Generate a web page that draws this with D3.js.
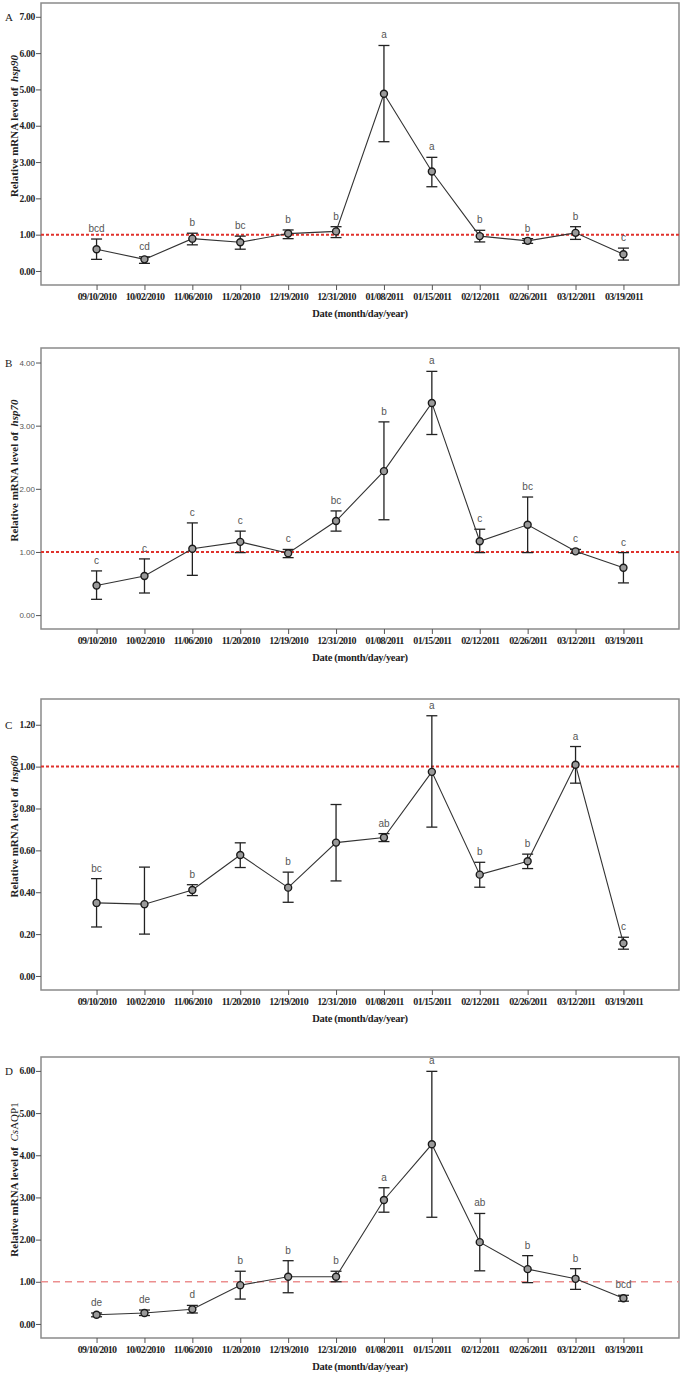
<!DOCTYPE html>
<html>
<head>
<meta charset="utf-8">
<script src="https://cdn.jsdelivr.net/npm/d3@7"></script>
<style>
    body { margin: 0; background: #fff; }
    svg { display: block; }
</style>
</head>
<body>
<svg id="chart" width="685" height="1376"></svg>
<script>
// sampling dates, shared by all four panels
const dates = ["09/10/2010", "10/02/2010", "11/06/2010", "11/20/2010", "12/19/2010", "12/31/2010",
               "01/08/2011", "01/15/2011", "02/12/2011", "02/26/2011", "03/12/2011", "03/19/2011"];

// A - hsp90
const hsp90Mean = [0.60, 0.32, 0.89, 0.79, 1.03, 1.09, 4.88, 2.74, 0.96, 0.83, 1.05, 0.46];
const hsp90Hi   = [0.88, 0.39, 1.04, 0.96, 1.13, 1.22, 6.21, 3.13, 1.12, 0.89, 1.22, 0.63];
const hsp90Lo   = [0.32, 0.21, 0.72, 0.60, 0.89, 0.92, 3.56, 2.32, 0.80, 0.76, 0.87, 0.30];
const hsp90Sig  = ["bcd", "cd", "b", "bc", "b", "b", "a", "a", "b", "b", "b", "c"];
const hsp90Ticks = [0, 1, 2, 3, 4, 5, 6, 7];

// B - hsp70
const hsp70Mean = [0.47, 0.62, 1.05, 1.16, 0.98, 1.49, 2.28, 3.36, 1.17, 1.43, 1.01, 0.75];
const hsp70Hi   = [0.70, 0.89, 1.46, 1.33, 1.04, 1.65, 3.06, 3.86, 1.36, 1.87, 1.04, 0.99];
const hsp70Lo   = [0.25, 0.35, 0.63, 0.99, 0.91, 1.33, 1.51, 2.86, 0.99, 0.99, 0.98, 0.51];
const hsp70Sig  = ["c", "c", "c", "c", "c", "bc", "b", "a", "c", "bc", "c", "c"];
const hsp70Ticks = [0, 1, 2, 3, 4];

// C - hsp60
const hsp60Mean = [0.349, 0.343, 0.411, 0.578, 0.422, 0.637, 0.661, 0.975, 0.484, 0.548, 1.009, 0.156];
const hsp60Hi   = [0.465, 0.520, 0.436, 0.636, 0.496, 0.819, 0.680, 1.243, 0.543, 0.582, 1.096, 0.185];
const hsp60Lo   = [0.234, 0.200, 0.384, 0.518, 0.352, 0.454, 0.642, 0.711, 0.424, 0.513, 0.921, 0.128];
const hsp60Sig  = ["bc", "", "b", "", "b", "", "ab", "a", "b", "b", "a", "c"];
const hsp60Ticks = [0, 0.2, 0.4, 0.6, 0.8, 1.0, 1.2];

// D - CsAQP1
const aqp1Mean = [0.22, 0.26, 0.35, 0.92, 1.12, 1.12, 2.94, 4.26, 1.94, 1.30, 1.07, 0.61];
const aqp1Hi   = [0.26, 0.33, 0.44, 1.25, 1.50, 1.25, 3.23, 5.99, 2.62, 1.62, 1.31, 0.68];
const aqp1Lo   = [0.17, 0.20, 0.26, 0.59, 0.74, 1.00, 2.65, 2.53, 1.26, 0.98, 0.82, 0.54];
const aqp1Sig  = ["de", "de", "d", "b", "b", "b", "a", "a", "ab", "b", "b", "bcd"];
const aqp1Ticks = [0, 1, 2, 3, 4, 5, 6];

const left = 41, right = 679;
const serif = "'Liberation Serif', 'Times New Roman', serif";
const narrow = "'Liberation Sans Narrow', 'Arial Narrow', 'Liberation Sans', sans-serif";

const panels = [
    { tag: "A", gene: [["hsp90", "italic", "bold"]], mean: hsp90Mean, hi: hsp90Hi, lo: hsp90Lo, sig: hsp90Sig,
      ticks: hsp90Ticks, domain: [-0.386, 7.38], top: 3, bottom: 285, dash: "dot", boldTicks: true },
    { tag: "B", gene: [["hsp70", "italic", "bold"]], mean: hsp70Mean, hi: hsp70Hi, lo: hsp70Lo, sig: hsp70Sig,
      ticks: hsp70Ticks, domain: [-0.22, 4.23], top: 348, bottom: 629, dash: "dot", boldTicks: false },
    { tag: "C", gene: [["hsp60", "italic", "bold"]], mean: hsp60Mean, hi: hsp60Hi, lo: hsp60Lo, sig: hsp60Sig,
      ticks: hsp60Ticks, domain: [-0.067, 1.323], top: 699, bottom: 990, dash: "dot", boldTicks: true },
    { tag: "D", gene: [["Cs", "italic", "normal"], ["AQP1", "normal", "normal"]], mean: aqp1Mean, hi: aqp1Hi, lo: aqp1Lo, sig: aqp1Sig,
      ticks: aqp1Ticks, domain: [-0.333, 6.33], top: 1057, bottom: 1338, dash: "dash", boldTicks: true }
];

const svg = d3.select("#chart");

const x = d3.scalePoint()
    .domain(dates)
    .range([left, right])
    .padding(1.16);

function drawPanel(p) {
    const y = d3.scaleLinear().domain(p.domain).range([p.bottom, p.top]);
    const g = svg.append("g");

    // frame
    g.append("rect")
        .attr("x", left).attr("y", p.top)
        .attr("width", right - left).attr("height", p.bottom - p.top)
        .attr("fill", "none")
        .attr("stroke", "#8a8a8a")
        .attr("stroke-width", 1.5);

    // y axis
    const yAxis = d3.axisLeft(y)
        .tickValues(p.ticks)
        .tickFormat(d3.format(".2f"))
        .tickSize(5)
        .tickPadding(1);
    const ya = g.append("g")
        .attr("transform", `translate(${left},0)`)
        .call(yAxis);
    ya.select(".domain").remove();
    ya.selectAll(".tick line").attr("stroke", "#555");
    ya.selectAll("text")
        .attr("fill", p.boldTicks ? "#222" : "#555")
        .style("font-family", p.boldTicks ? serif : "'Liberation Sans', Arial, sans-serif")
        .style("font-weight", p.boldTicks ? "bold" : "normal")
        .style("font-size", p.boldTicks ? "9.5px" : "8px")
        .style("letter-spacing", p.boldTicks ? "-0.3px" : "0");

    // x axis
    const xAxis = d3.axisBottom(x).tickSize(5).tickPadding(3);
    const xa = g.append("g")
        .attr("transform", `translate(0,${p.bottom})`)
        .call(xAxis);
    xa.select(".domain").remove();
    xa.selectAll(".tick line").attr("stroke", "#555");
    xa.selectAll("text")
        .attr("fill", "#222")
        .style("font-family", serif)
        .style("font-weight", "bold")
        .style("font-size", "10px")
        .style("letter-spacing", "-0.7px");

    g.append("text")
        .attr("x", (left + right) / 2)
        .attr("y", p.bottom + 32)
        .attr("text-anchor", "middle")
        .attr("fill", "#222")
        .style("font-family", serif)
        .style("font-weight", "bold")
        .style("font-size", "10.5px")
        .style("letter-spacing", "-0.3px")
        .text("Date (month/day/year)");

    // y title
    const yt = g.append("text")
        .attr("transform", `translate(18,${(p.top + p.bottom) / 2 - 18}) rotate(-90)`)
        .attr("text-anchor", "middle")
        .attr("fill", "#222")
        .style("font-family", serif)
        .style("font-weight", "bold")
        .style("font-size", "11px");
    yt.append("tspan").text("Relative mRNA level of\u00a0\u00a0");
    p.gene.forEach(function (part) {
        yt.append("tspan")
            .style("font-style", part[1])
            .style("font-weight", part[2])
            .text(part[0]);
    });

    // panel tag
    g.append("text")
        .attr("x", 5)
        .attr("y", y(d3.max(p.ticks)) + 4)
        .attr("fill", "#222")
        .style("font-family", serif)
        .style("font-size", "11px")
        .text(p.tag);

    // reference line at 1.00
    g.append("line")
        .attr("x1", left).attr("x2", right)
        .attr("y1", y(1)).attr("y2", y(1))
        .attr("stroke", p.dash === "dot" ? "#e0322c" : "#ec8f8f")
        .attr("stroke-width", p.dash === "dot" ? 2 : 1.5)
        .attr("stroke-dasharray", p.dash === "dot" ? "3,2" : "7,5");

    // error bars
    const bars = g.append("g")
        .selectAll("g")
        .data(dates)
        .join("g")
        .attr("stroke", "#222")
        .attr("stroke-width", 1.3);
    bars.append("line")
        .attr("x1", d => x(d)).attr("x2", d => x(d))
        .attr("y1", (d, i) => y(p.hi[i]))
        .attr("y2", (d, i) => y(p.lo[i]));
    bars.append("line")
        .attr("x1", d => x(d) - 5.5).attr("x2", d => x(d) + 5.5)
        .attr("y1", (d, i) => y(p.hi[i]))
        .attr("y2", (d, i) => y(p.hi[i]));
    bars.append("line")
        .attr("x1", d => x(d) - 5.5).attr("x2", d => x(d) + 5.5)
        .attr("y1", (d, i) => y(p.lo[i]))
        .attr("y2", (d, i) => y(p.lo[i]));

    // mean line
    const line = d3.line()
        .x((d, i) => x(dates[i]))
        .y(d => y(d));
    g.append("path")
        .datum(p.mean)
        .attr("d", line)
        .attr("fill", "none")
        .attr("stroke", "#333")
        .attr("stroke-width", 1.1);

    g.append("g")
        .selectAll("circle")
        .data(p.mean)
        .join("circle")
        .attr("cx", (d, i) => x(dates[i]))
        .attr("cy", d => y(d))
        .attr("r", 3.5)
        .attr("fill", "#9a9a9a")
        .attr("stroke", "#1a1a1a")
        .attr("stroke-width", 1.4);

    // significance letters
    g.append("g")
        .selectAll("text")
        .data(p.sig)
        .join("text")
        .attr("x", (d, i) => x(dates[i]))
        .attr("y", (d, i) => y(p.hi[i]) - 7)
        .attr("text-anchor", "middle")
        .attr("fill", "#555")
        .style("font-family", narrow)
        .style("font-size", "10px")
        .text(d => d);
}

panels.forEach(drawPanel);
</script>
</body>
</html>
